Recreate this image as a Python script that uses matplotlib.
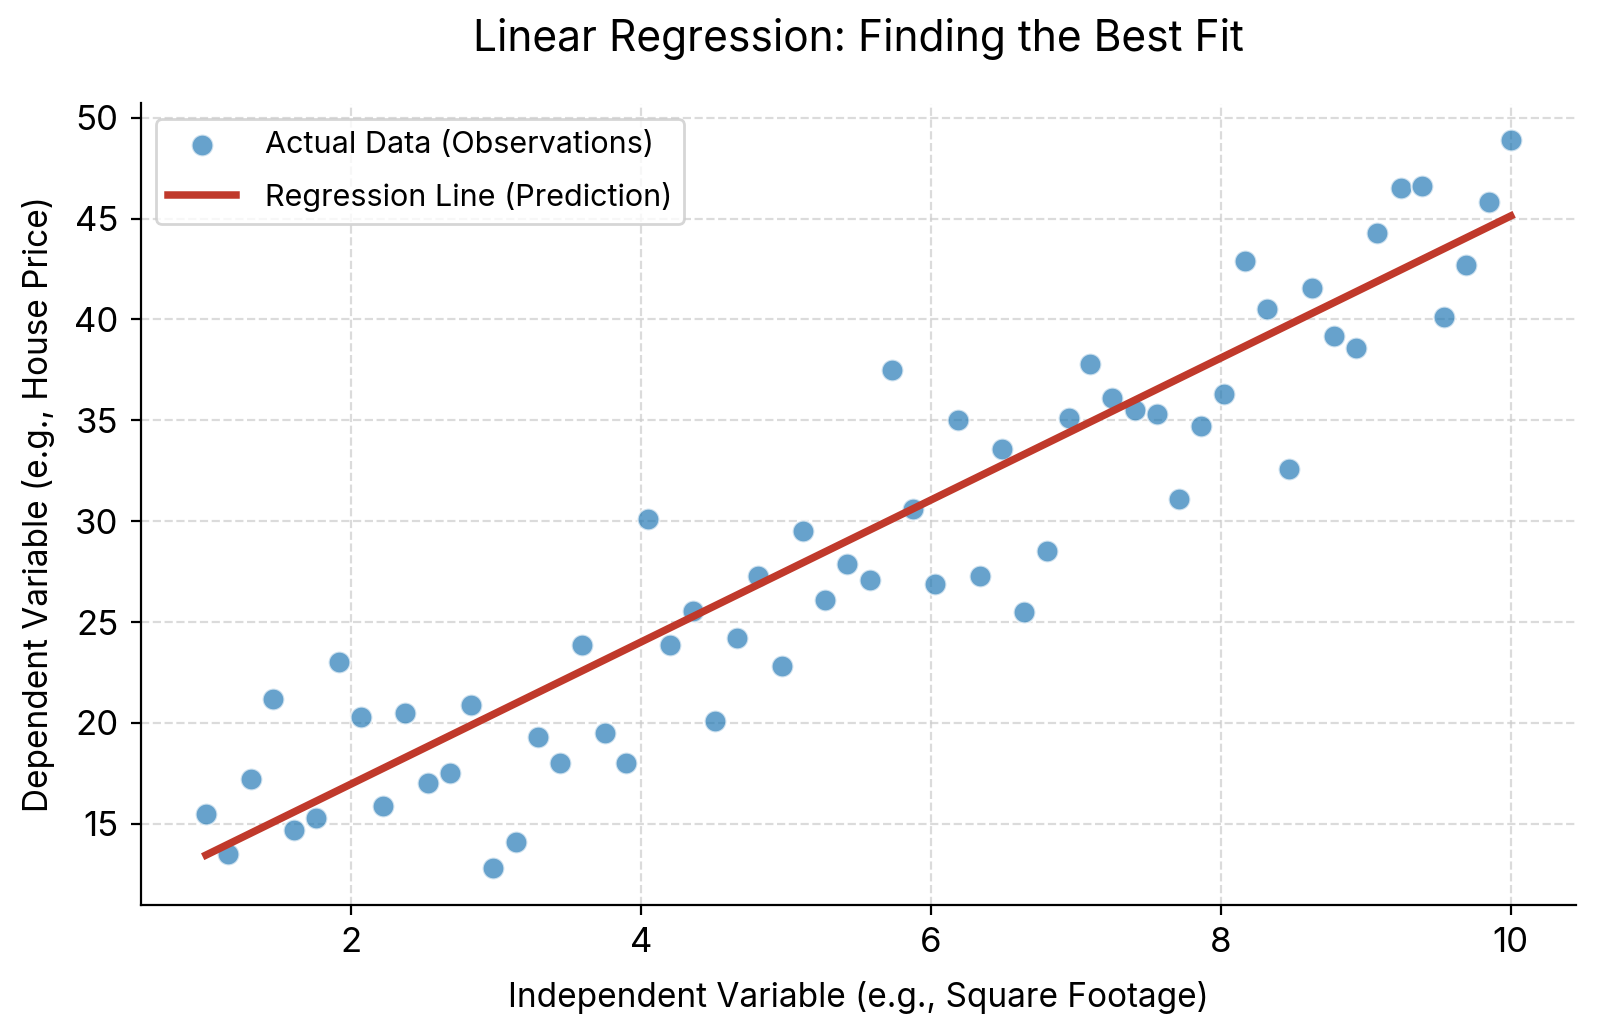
import numpy as np
import matplotlib.pyplot as plt

plt.rcParams['font.family'] = ['Inter', 'DejaVu Sans']

# observations
x_obs = [1.00, 1.15, 1.31, 1.46, 1.61, 1.76, 1.92, 2.07, 2.22, 2.37,
         2.53, 2.68, 2.83, 2.98, 3.14, 3.29, 3.44, 3.59, 3.75, 3.90,
         4.05, 4.20, 4.36, 4.51, 4.66, 4.81, 4.97, 5.12, 5.27, 5.42,
         5.58, 5.73, 5.88, 6.03, 6.19, 6.34, 6.49, 6.64, 6.80, 6.95,
         7.10, 7.25, 7.41, 7.56, 7.71, 7.86, 8.02, 8.17, 8.32, 8.47,
         8.63, 8.78, 8.93, 9.08, 9.24, 9.39, 9.54, 9.69, 9.85, 10.00]
y_obs = [15.5, 13.5, 17.2, 21.2, 14.7, 15.3, 23.0, 20.3, 15.9, 20.5,
         17.0, 17.5, 20.9, 12.8, 14.1, 19.3, 18.0, 23.85, 19.5, 18.0,
         30.1, 23.85, 25.55, 20.1, 24.2, 27.3, 22.8, 29.5, 26.1, 27.9,
         27.1, 37.5, 30.6, 26.9, 35.0, 27.3, 33.6, 25.5, 28.5, 35.1,
         37.8, 36.1, 35.5, 35.3, 31.1, 34.7, 36.3, 42.9, 40.5, 32.6,
         41.55, 39.2, 38.6, 44.3, 46.5, 46.6, 40.1, 42.7, 45.8, 48.9]

# regression line as drawn in the reference
fit_slope = 3.52
fit_intercept = 9.93

x_obs = np.array(x_obs)
y_obs = np.array(y_obs)
y_pred = fit_slope * x_obs + fit_intercept

fig, ax = plt.subplots(figsize=(8, 5.175), dpi=200)
fig.subplots_adjust(left=0.088, right=0.985, bottom=0.126, top=0.900)

ax.scatter(x_obs, y_obs, s=62, color='#1f77b4', alpha=0.68, edgecolors='white',
           linewidths=0.8, label='Actual Data (Observations)', zorder=3)
ax.plot(x_obs, y_pred, color='#c0392b', lw=2.7, label='Regression Line (Prediction)', zorder=4)

ax.set_title('Linear Regression: Finding the Best Fit', fontsize=15.3, pad=19)
ax.set_xlabel('Independent Variable (e.g., Square Footage)', fontsize=12, labelpad=8)
ax.set_ylabel('Dependent Variable (e.g., House Price)', fontsize=12, labelpad=7)
ax.tick_params(labelsize=12.5, pad=4.5)

ax.grid(True, linestyle='--', color='#cccccc', alpha=0.7, lw=0.8)
ax.set_axisbelow(True)
ax.spines['top'].set_visible(False)
ax.spines['right'].set_visible(False)

ax.legend(loc='upper left', fontsize=11, frameon=True, edgecolor='#cccccc',
          labelspacing=0.75, handlelength=2.2, handletextpad=0.95)

plt.savefig('out.png', dpi=200)
